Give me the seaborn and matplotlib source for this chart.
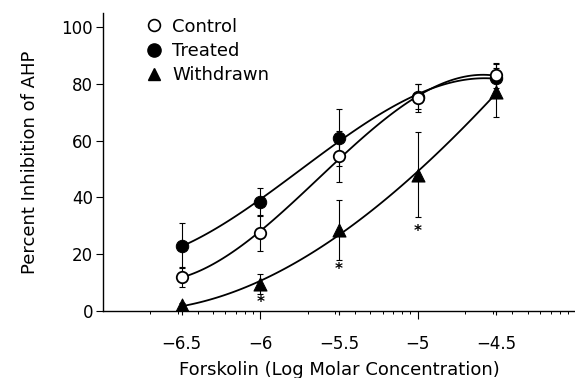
import numpy as np
import pandas as pd
import matplotlib
matplotlib.use("Agg")
import matplotlib.pyplot as plt
import seaborn as sns
from matplotlib.ticker import FixedLocator
from matplotlib.lines import Line2D

# ---- data ----
log_conc = [-6.5, -6.0, -5.5, -5.0, -4.5]
control = [12, 27.5, 54.5, 75, 83]
control_err = [3.5, 6.5, 9, 5, 4.5]
treated = [23, 38.5, 61, 75.5, 82]
treated_err = [8, 5, 10, 4.5, 5]
withdrawn = [2, 9.5, 28.5, 48, 77]
withdrawn_err = [1, 3.5, 10.5, 15, 8.5]
star_x = [-6.0, -5.5, -5.0]
star_y = [3, 14.5, 28]
xtick_vals = [-6.5, -6.0, -5.5, -5.0, -4.5]
xtick_labels = ["\u22126.5", "\u22126", "\u22125.5", "\u22125", "\u22124.5"]
ytick_vals = [0, 20, 40, 60, 80, 100]

df = pd.DataFrame({"x": log_conc, "control": control, "treated": treated,
                   "withdrawn": withdrawn})

sns.set_style("ticks")
plt.rcParams["font.family"] = ["DejaVu Sans"]
plt.rcParams.update({"text.color": "black", "axes.labelcolor": "black",
                     "xtick.color": "black", "ytick.color": "black",
                     "axes.edgecolor": "black"})

fig = plt.figure(figsize=(5.75, 3.78), dpi=100)
ax = fig.add_axes([0.179, 0.177, 0.821, 0.789])

# fitted curves
for col in ["control", "treated", "withdrawn"]:
    sns.regplot(data=df, x="x", y=col, order=3, ci=None, scatter=False,
                truncate=True, ax=ax, line_kws=dict(color="black", lw=1.3))

ebkw = dict(fmt="none", ecolor="black", elinewidth=0.8, capsize=2.5,
            capthick=0.8, zorder=2)
ax.errorbar(log_conc, treated, yerr=treated_err, **ebkw)
ax.errorbar(log_conc, control, yerr=control_err, **ebkw)
ax.errorbar(log_conc, withdrawn, yerr=withdrawn_err, **ebkw)

ms = 80
sns.scatterplot(x=log_conc, y=withdrawn, marker="^", s=ms * 1.1, color="black",
                edgecolor="black", zorder=4, ax=ax)
sns.scatterplot(x=log_conc, y=treated, marker="o", s=ms, color="black",
                edgecolor="black", zorder=4, ax=ax)
sns.scatterplot(x=log_conc, y=control, marker="o", s=ms * 0.85, color="white",
                edgecolor="black", linewidth=1.3, zorder=5, ax=ax)

for sx, sy in zip(star_x, star_y):
    ax.text(sx, sy, "*", ha="center", va="center", fontsize=11,
            fontweight="bold", color="black")

ax.set_xlim(-7.0, -4.0)
ax.set_ylim(0, 105)

ax.set_xticks(xtick_vals)
ax.set_xticklabels(xtick_labels)
minor = [np.log10(k) + d for d in (-7, -6, -5) for k in range(2, 10)]
ax.xaxis.set_minor_locator(FixedLocator(minor))
ax.set_yticks(ytick_vals)
ax.tick_params(axis="x", which="major", length=3, width=0.8, labelsize=12,
               pad=14, direction="out", colors="black")
ax.tick_params(axis="x", which="minor", length=2.5, width=0.7, direction="out",
               colors="black")
ax.tick_params(axis="y", which="major", length=5, width=0.8, labelsize=12,
               pad=2, direction="out", colors="black")
for t, v in zip(ax.xaxis.get_major_ticks(), xtick_vals):
    if v in (-6.0, -5.0):
        t.tick1line.set_markersize(6)

for s in ["top", "right"]:
    ax.spines[s].set_visible(False)
ax.spines["left"].set_linewidth(1.0)
ax.spines["bottom"].set_linewidth(1.0)
ax.spines["left"].set_color("black")
ax.spines["bottom"].set_color("black")

ax.set_xlabel("Forskolin (Log Molar Concentration)", fontsize=13, labelpad=6,
              color="black")
ax.set_ylabel("Percent Inhibition of AHP", fontsize=13, labelpad=16,
              color="black")

handles = [
    Line2D([], [], marker="o", ls="none", mfc="white", mec="black", ms=8.5, mew=1.2),
    Line2D([], [], marker="o", ls="none", mfc="black", mec="black", ms=9.5),
    Line2D([], [], marker="^", ls="none", mfc="black", mec="black", ms=8.5),
]
leg = ax.legend(handles, ["Control", "Treated", "Withdrawn"], loc="upper left",
                bbox_to_anchor=(0.07, 1.02), frameon=False, fontsize=13,
                handlelength=0.8, handletextpad=0.6, labelspacing=0.35,
                borderaxespad=0.2)
for t in leg.get_texts():
    t.set_color("black")

fig.savefig("out.png", dpi=100)
